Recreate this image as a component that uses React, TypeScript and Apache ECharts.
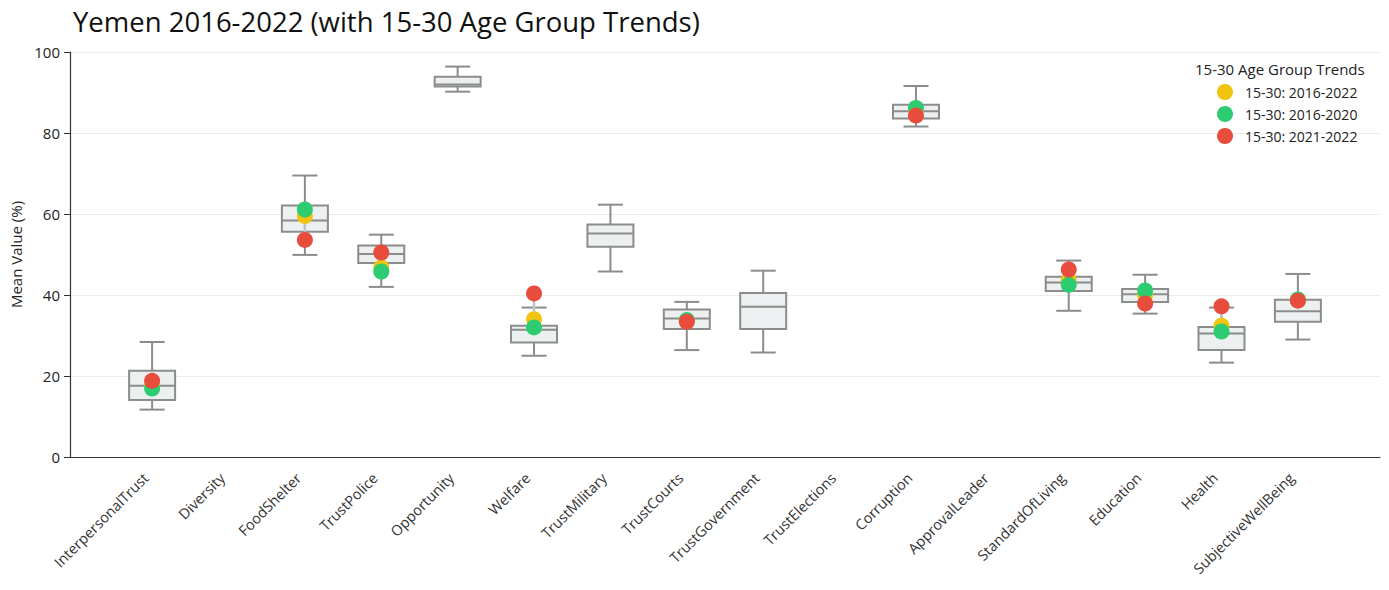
import React, { useEffect, useRef } from "react";
import * as echarts from "echarts";

const categories = [
  "InterpersonalTrust", "Diversity", "FoodShelter", "TrustPolice", "Opportunity", "Welfare",
  "TrustMilitary", "TrustCourts", "TrustGovernment", "TrustElections", "Corruption",
  "ApprovalLeader", "StandardOfLiving", "Education", "Health", "SubjectiveWellBeing",
];

// [min, q1, median, q3, max] per category (null = no data)
const boxStats: (number[] | null)[] = [
  [11.7, 14.1, 17.6, 21.3, 28.4],
  null,
  [49.9, 55.6, 58.4, 62.1, 69.5],
  [42.0, 47.9, 50.1, 52.2, 54.9],
  [90.2, 91.5, 92.0, 93.9, 96.4],
  [25.0, 28.3, 31.4, 32.4, 36.9],
  [45.8, 51.9, 55.2, 57.4, 62.3],
  [26.4, 31.6, 34.2, 36.4, 38.3],
  [25.8, 31.6, 37.1, 40.5, 46.0],
  null,
  [81.6, 83.6, 85.4, 87.0, 91.6],
  null,
  [36.1, 41.0, 43.1, 44.5, 48.5],
  [35.4, 38.3, 40.2, 41.5, 45.0],
  [23.3, 26.4, 30.5, 32.1, 36.9],
  [29.0, 33.4, 36.0, 38.8, 45.2],
];

const youth2016to2022: (number | null)[] = [17.8, null, 59.5, 46.8, null, 34.0, null, 33.6, null, null, 85.5, null, 43.7, 40.0, 32.4, 38.7];
const youth2016to2020: (number | null)[] = [16.9, null, 61.1, 45.8, null, 32.0, null, 33.8, null, null, 86.2, null, 42.5, 41.1, 31.0, 38.9];
const youth2021to2022: (number | null)[] = [18.8, null, 53.6, 50.5, null, 40.4, null, 33.4, null, null, 84.3, null, 46.3, 37.9, 37.2, 38.6];

const yTicks = [0, 20, 40, 60, 80, 100];

const FONT = "'Open Sans', 'Noto Sans', sans-serif";
const BOX_HALF = 23;
const CAP_HALF = 12.5;

export default function App() {
  const ref = useRef<HTMLDivElement>(null);

  useEffect(() => {
    document.body.style.margin = "0";
    if (!ref.current) return;
    const chart = echarts.init(ref.current, null, { renderer: "svg" });

    const boxData = boxStats
      .map((s, i) => (s ? [i, ...s] : null))
      .filter((d) => d !== null) as number[][];

    const pts = (arr: (number | null)[]) =>
      arr.map((v, i) => (v === null ? null : [i, v])).filter((d) => d !== null);

    const connData: number[][] = [];
    categories.forEach((_, i) => {
      const vals = [youth2016to2022[i], youth2016to2020[i], youth2021to2022[i]].filter(
        (v) => v !== null
      ) as number[];
      if (vals.length) connData.push([i, Math.min(...vals), Math.max(...vals)]);
    });

    const gray = "#8c8c8c";

    chart.setOption({
      animation: false,
      textStyle: { fontFamily: FONT },
      title: {
        text: "Yemen 2016-2022 (with 15-30 Age Group Trends)",
        left: 68,
        top: 2,
        textStyle: { fontFamily: FONT, fontSize: 27.5, fontWeight: "normal", color: "#111" },
      },
      graphic: [
        {
          type: "text",
          left: 1195,
          top: 61,
          style: { text: "15-30 Age Group Trends", font: `15px ${FONT}`, fill: "#222" },
        },
      ],
      legend: {
        orient: "vertical",
        left: 1212,
        top: 79,
        itemWidth: 16,
        itemHeight: 16,
        itemGap: 6,
        icon: "circle",
        textStyle: { fontFamily: FONT, fontSize: 14, color: "#222", padding: [0, 0, 0, 7] },
        data: ["15-30: 2016-2022", "15-30: 2016-2020", "15-30: 2021-2022"],
      },
      grid: { left: 70, right: 9, top: 52, bottom: 133, containLabel: false },
      xAxis: {
        type: "value",
        min: -1.075,
        max: 16.075,
        splitLine: { show: false },
        axisTick: { show: false },
        axisLine: { show: true, onZero: false, lineStyle: { color: "#333", width: 1.2 } },
        axisLabel: {
          customValues: categories.map((_, i) => i),
          formatter: (v: number) => categories[Math.round(v)] ?? "",
          rotate: 45,
          margin: 12,
          padding: [0, 9, 0, 0],
          fontSize: 14.5,
          fontFamily: FONT,
          color: "#333",
        },
      },
      yAxis: {
        type: "value",
        min: 0,
        max: 100,
        interval: 20,
        name: "Mean Value (%)",
        nameLocation: "middle",
        nameGap: 46,
        nameRotate: 90,
        nameTextStyle: { fontFamily: FONT, fontSize: 15, color: "#222" },
        axisLine: { show: true, onZero: false, lineStyle: { color: "#333", width: 1.2 } },
        axisTick: { show: true, length: 6, lineStyle: { color: "#333" } },
        axisLabel: {
          fontSize: 15,
          fontFamily: FONT,
          color: "#222",
          margin: 10,
          customValues: yTicks,
        },
        splitLine: { show: true, lineStyle: { color: "#ececec", width: 1 } },
      },
      series: [
        {
          type: "custom",
          name: "box",
          data: boxData,
          encode: { x: 0, y: [1, 2, 3, 4, 5] },
          z: 2,
          renderItem: (params: any, api: any) => {
            const x = api.value(0);
            const pMin = api.coord([x, api.value(1)]);
            const pQ1 = api.coord([x, api.value(2)]);
            const pMed = api.coord([x, api.value(3)]);
            const pQ3 = api.coord([x, api.value(4)]);
            const pMax = api.coord([x, api.value(5)]);
            const cx = pMin[0];
            const ls = { stroke: gray, lineWidth: 2 };
            return {
              type: "group",
              children: [
                { type: "line", shape: { x1: cx, y1: pQ3[1], x2: cx, y2: pMax[1] }, style: ls },
                { type: "line", shape: { x1: cx, y1: pQ1[1], x2: cx, y2: pMin[1] }, style: ls },
                { type: "line", shape: { x1: cx - CAP_HALF, y1: pMax[1], x2: cx + CAP_HALF, y2: pMax[1] }, style: ls },
                { type: "line", shape: { x1: cx - CAP_HALF, y1: pMin[1], x2: cx + CAP_HALF, y2: pMin[1] }, style: ls },
                {
                  type: "rect",
                  shape: { x: cx - BOX_HALF, y: pQ3[1], width: BOX_HALF * 2, height: pQ1[1] - pQ3[1] },
                  style: { fill: "#ecf0f1", stroke: gray, lineWidth: 2 },
                },
                { type: "line", shape: { x1: cx - BOX_HALF, y1: pMed[1], x2: cx + BOX_HALF, y2: pMed[1] }, style: ls },
              ],
            };
          },
        },
        {
          type: "custom",
          name: "connector",
          data: connData,
          encode: { x: 0, y: [1, 2] },
          z: 3,
          renderItem: (params: any, api: any) => {
            const x = api.value(0);
            const a = api.coord([x, api.value(1)]);
            const b = api.coord([x, api.value(2)]);
            return {
              type: "line",
              shape: { x1: a[0], y1: a[1], x2: b[0], y2: b[1] },
              style: { stroke: "#bdc3c7", lineWidth: 2.5 },
            };
          },
        },
        {
          type: "scatter",
          name: "15-30: 2016-2022",
          data: pts(youth2016to2022),
          symbolSize: 16,
          itemStyle: { color: "#f1c40f", opacity: 1 },
          z: 4,
        },
        {
          type: "scatter",
          name: "15-30: 2016-2020",
          data: pts(youth2016to2020),
          symbolSize: 16,
          itemStyle: { color: "#2ecc71", opacity: 1 },
          z: 5,
        },
        {
          type: "scatter",
          name: "15-30: 2021-2022",
          data: pts(youth2021to2022),
          symbolSize: 16,
          itemStyle: { color: "#e74c3c", opacity: 1 },
          z: 6,
        },
      ],
    });

    return () => chart.dispose();
  }, []);

  return <div ref={ref} style={{ width: 1389, height: 590 }} />;
}
